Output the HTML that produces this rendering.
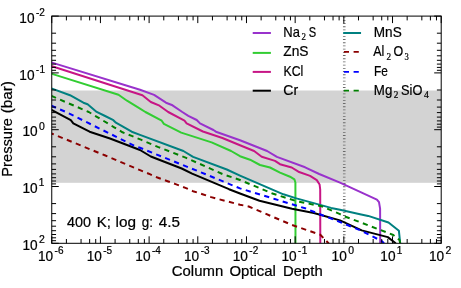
<!DOCTYPE html>
<html><head><meta charset="utf-8"><title>Column Optical Depth vs Pressure</title>
<style>html,body{margin:0;padding:0;background:#fff;}body{width:461px;height:288px;overflow:hidden;font-family:"Liberation Sans",sans-serif;}</style>
</head><body>
<svg width="461" height="288" viewBox="0 0 461 288" style="display:block;will-change:transform;font-family:'Liberation Sans',sans-serif">
<style>text{stroke:#000;stroke-width:0.22px;fill:#000}</style>
<rect x="0" y="0" width="461" height="288" fill="#fff"/>
<rect x="51.75" y="90.5" width="389.45" height="92.30000000000001" fill="#D3D3D3"/>
<line x1="344.25" y1="16.700000000000003" x2="344.25" y2="243.3" stroke="#6a6a6a" stroke-width="2.6" stroke-dasharray="0.85 2.35"/>
<clipPath id="cp"><rect x="51.75" y="16.1" width="389.45" height="227.20000000000002"/></clipPath>
<g clip-path="url(#cp)" fill="none" stroke-width="2" stroke-linejoin="round">
<path d="M50.0,62.0 L52.0,62.6 L140.0,89.7 L154.1,94.9 L166.0,102.7 L172.5,105.3 L182.3,112.0 L188.3,115.8 L196.7,120.0 L200.0,123.4 L213.4,130.0 L215.9,131.7 L240.0,140.2 L267.1,151.0 L276.9,156.9 L305.1,167.3 L319.2,174.0 L340.0,182.7 L376.9,199.6 L379.0,202.2 L380.1,208.7 L380.2,244.0" stroke="#9932CC"/>
<path d="M50.0,73.3 L52.0,73.9 L118.5,94.7 L127.0,100.7 L140.0,108.6 L145.4,112.0 L161.7,120.7 L163.9,123.9 L181.2,132.6 L211.6,142.4 L231.1,151.0 L240.0,156.2 L250.0,159.7 L260.0,165.0 L270.0,167.5 L280.0,172.6 L290.0,176.7 L294.4,179.4 L295.4,182.5 L295.5,244.0" stroke="#32CD32"/>
<path d="M50.0,65.7 L52.0,66.3 L142.4,95.3 L150.8,102.0 L159.5,105.7 L168.2,112.0 L184.5,120.7 L186.6,123.3 L202.9,131.5 L222.4,138.0 L240.0,145.2 L254.1,151.0 L261.7,156.7 L275.0,160.9 L280.0,164.2 L291.7,167.5 L298.4,171.7 L310.1,175.9 L316.8,180.1 L319.6,184.5 L320.2,189.5 L320.3,244.0" stroke="#C71585"/>
<path d="M50.0,109.1 L52.0,110.2 L70.8,120.2 L73.3,123.3 L89.6,131.7 L110.0,138.5 L140.0,150.0 L150.8,156.5 L181.7,168.5 L192.1,173.7 L229.0,189.2 L240.0,193.5 L259.5,200.7 L292.0,208.7 L313.8,213.0 L340.0,220.4 L361.7,230.4 L387.8,237.1 L394.7,242.5 L396.0,244.0" stroke="#000000"/>
<path d="M50.0,87.9 L52.0,88.6 L70.0,95.2 L83.4,102.7 L87.6,104.3 L96.7,111.9 L105.1,116.0 L113.4,120.2 L115.9,122.7 L131.7,131.7 L140.0,134.9 L183.4,151.0 L193.1,156.9 L226.8,169.5 L240.0,175.6 L257.4,183.2 L283.4,194.3 L296.4,198.4 L331.1,207.9 L340.0,209.8 L360.0,214.2 L368.2,215.9 L388.5,222.5 L398.9,230.8 L400.3,244.0" stroke="#008080"/>
<path d="M50.0,132.9 L52.0,133.7 L104.8,155.3 L140.0,170.2 L148.7,173.7 L157.4,177.5 L166.9,181.0 L175.6,184.1 L184.8,187.6 L193.0,191.2 L202.5,194.2 L211.2,197.1 L219.0,199.2 L240.0,204.7 L248.7,206.5 L292.0,225.0 L320.3,234.7 L327.3,242.0 L329.0,244.0" stroke="#8B0000" stroke-dasharray="5.2 4.45" stroke-dashoffset="1.0991155774536878"/>
<path d="M50.0,105.1 L52.0,106.0 L66.0,112.0 L135.5,146.3 L140.0,147.8 L205.1,174.0 L240.0,188.4 L274.7,199.0 L305.1,208.3 L322.4,215.2 L340.0,222.0 L361.4,230.8 L382.2,241.3 L384.0,243.5" stroke="#0000FF" stroke-dasharray="5.2 4.45" stroke-dashoffset="-1.3259351731039737"/>
<path d="M50.0,95.3 L52.0,96.2 L88.8,112.0 L114.2,127.3 L122.5,132.3 L131.7,135.9 L140.9,139.7 L158.4,147.1 L185.6,157.6 L222.4,174.0 L240.0,180.0 L272.5,193.5 L296.4,201.1 L322.4,206.5 L340.0,214.1 L344.3,216.3 L362.8,223.2 L393.3,235.0 L399.5,240.0 L400.3,244.0" stroke="#008000" stroke-dasharray="5.2 4.45" stroke-dashoffset="-1.3265473169821926"/>
</g>
<rect x="51.75" y="16.1" width="389.45" height="227.20000000000002" fill="none" stroke="#000" stroke-width="1"/>
<path d="M51.75,243.3v-7.0M51.75,16.1v7.0M66.40,243.3v-4.3M66.40,16.1v4.3M81.06,243.3v-4.3M81.06,16.1v4.3M89.63,243.3v-4.3M89.63,16.1v4.3M95.71,243.3v-4.3M95.71,16.1v4.3M100.43,243.3v-7.0M100.43,16.1v7.0M115.09,243.3v-4.3M115.09,16.1v4.3M129.74,243.3v-4.3M129.74,16.1v4.3M138.31,243.3v-4.3M138.31,16.1v4.3M144.39,243.3v-4.3M144.39,16.1v4.3M149.11,243.3v-7.0M149.11,16.1v7.0M163.77,243.3v-4.3M163.77,16.1v4.3M178.42,243.3v-4.3M178.42,16.1v4.3M186.99,243.3v-4.3M186.99,16.1v4.3M193.08,243.3v-4.3M193.08,16.1v4.3M197.79,243.3v-7.0M197.79,16.1v7.0M212.45,243.3v-4.3M212.45,16.1v4.3M227.10,243.3v-4.3M227.10,16.1v4.3M235.68,243.3v-4.3M235.68,16.1v4.3M241.76,243.3v-4.3M241.76,16.1v4.3M246.47,243.3v-7.0M246.47,16.1v7.0M261.13,243.3v-4.3M261.13,16.1v4.3M275.78,243.3v-4.3M275.78,16.1v4.3M284.36,243.3v-4.3M284.36,16.1v4.3M290.44,243.3v-4.3M290.44,16.1v4.3M295.16,243.3v-7.0M295.16,16.1v7.0M309.81,243.3v-4.3M309.81,16.1v4.3M324.47,243.3v-4.3M324.47,16.1v4.3M333.04,243.3v-4.3M333.04,16.1v4.3M339.12,243.3v-4.3M339.12,16.1v4.3M343.84,243.3v-7.0M343.84,16.1v7.0M358.49,243.3v-4.3M358.49,16.1v4.3M373.15,243.3v-4.3M373.15,16.1v4.3M381.72,243.3v-4.3M381.72,16.1v4.3M387.80,243.3v-4.3M387.80,16.1v4.3M392.52,243.3v-7.0M392.52,16.1v7.0M407.17,243.3v-4.3M407.17,16.1v4.3M421.83,243.3v-4.3M421.83,16.1v4.3M430.40,243.3v-4.3M430.40,16.1v4.3M436.48,243.3v-4.3M436.48,16.1v4.3M441.20,243.3v-7.0M441.20,16.1v7.0M51.75,16.10h7.0M441.2,16.10h-7.0M51.75,33.20h4.3M441.2,33.20h-4.3M51.75,43.20h4.3M441.2,43.20h-4.3M51.75,50.30h4.3M441.2,50.30h-4.3M51.75,55.80h4.3M441.2,55.80h-4.3M51.75,60.30h4.3M441.2,60.30h-4.3M51.75,64.10h4.3M441.2,64.10h-4.3M51.75,67.40h4.3M441.2,67.40h-4.3M51.75,70.30h4.3M441.2,70.30h-4.3M51.75,72.90h7.0M441.2,72.90h-7.0M51.75,90.00h4.3M441.2,90.00h-4.3M51.75,100.00h4.3M441.2,100.00h-4.3M51.75,107.10h4.3M441.2,107.10h-4.3M51.75,112.60h4.3M441.2,112.60h-4.3M51.75,117.10h4.3M441.2,117.10h-4.3M51.75,120.90h4.3M441.2,120.90h-4.3M51.75,124.20h4.3M441.2,124.20h-4.3M51.75,127.10h4.3M441.2,127.10h-4.3M51.75,129.70h7.0M441.2,129.70h-7.0M51.75,146.80h4.3M441.2,146.80h-4.3M51.75,156.80h4.3M441.2,156.80h-4.3M51.75,163.90h4.3M441.2,163.90h-4.3M51.75,169.40h4.3M441.2,169.40h-4.3M51.75,173.90h4.3M441.2,173.90h-4.3M51.75,177.70h4.3M441.2,177.70h-4.3M51.75,181.00h4.3M441.2,181.00h-4.3M51.75,183.90h4.3M441.2,183.90h-4.3M51.75,186.50h7.0M441.2,186.50h-7.0M51.75,203.60h4.3M441.2,203.60h-4.3M51.75,213.60h4.3M441.2,213.60h-4.3M51.75,220.70h4.3M441.2,220.70h-4.3M51.75,226.20h4.3M441.2,226.20h-4.3M51.75,230.70h4.3M441.2,230.70h-4.3M51.75,234.50h4.3M441.2,234.50h-4.3M51.75,237.80h4.3M441.2,237.80h-4.3M51.75,240.70h4.3M441.2,240.70h-4.3M51.75,243.30h7.0M441.2,243.30h-7.0" stroke="#000" stroke-width="1" fill="none"/>
<text x="37.98" y="260.70" font-size="14.3" font-family="'Liberation Sans',sans-serif" textLength="15.20" lengthAdjust="spacingAndGlyphs">10</text>
<text x="54.62" y="253.80" font-size="10.0" font-family="'Liberation Sans',sans-serif" textLength="8.90" lengthAdjust="spacingAndGlyphs">-6</text>
<text x="86.66" y="260.70" font-size="14.3" font-family="'Liberation Sans',sans-serif" textLength="15.20" lengthAdjust="spacingAndGlyphs">10</text>
<text x="103.31" y="253.80" font-size="10.0" font-family="'Liberation Sans',sans-serif" textLength="8.90" lengthAdjust="spacingAndGlyphs">-5</text>
<text x="135.34" y="260.70" font-size="14.3" font-family="'Liberation Sans',sans-serif" textLength="15.20" lengthAdjust="spacingAndGlyphs">10</text>
<text x="151.99" y="253.80" font-size="10.0" font-family="'Liberation Sans',sans-serif" textLength="8.90" lengthAdjust="spacingAndGlyphs">-4</text>
<text x="184.02" y="260.70" font-size="14.3" font-family="'Liberation Sans',sans-serif" textLength="15.20" lengthAdjust="spacingAndGlyphs">10</text>
<text x="200.67" y="253.80" font-size="10.0" font-family="'Liberation Sans',sans-serif" textLength="8.90" lengthAdjust="spacingAndGlyphs">-3</text>
<text x="232.70" y="260.70" font-size="14.3" font-family="'Liberation Sans',sans-serif" textLength="15.20" lengthAdjust="spacingAndGlyphs">10</text>
<text x="249.35" y="253.80" font-size="10.0" font-family="'Liberation Sans',sans-serif" textLength="8.90" lengthAdjust="spacingAndGlyphs">-2</text>
<text x="281.38" y="260.70" font-size="14.3" font-family="'Liberation Sans',sans-serif" textLength="15.20" lengthAdjust="spacingAndGlyphs">10</text>
<text x="298.03" y="253.80" font-size="10.0" font-family="'Liberation Sans',sans-serif" textLength="3.00" lengthAdjust="spacingAndGlyphs">-</text>
<text x="301.65" y="253.80" font-size="10.0" font-family="'Liberation Sans',sans-serif">1</text>
<text x="331.61" y="260.70" font-size="14.3" font-family="'Liberation Sans',sans-serif" textLength="15.20" lengthAdjust="spacingAndGlyphs">10</text>
<text x="348.26" y="253.80" font-size="10.0" font-family="'Liberation Sans',sans-serif" textLength="5.80" lengthAdjust="spacingAndGlyphs">0</text>
<text x="380.29" y="260.70" font-size="14.3" font-family="'Liberation Sans',sans-serif" textLength="15.20" lengthAdjust="spacingAndGlyphs">10</text>
<text x="396.66" y="253.80" font-size="10.0" font-family="'Liberation Sans',sans-serif">1</text>
<text x="428.97" y="260.70" font-size="14.3" font-family="'Liberation Sans',sans-serif" textLength="15.20" lengthAdjust="spacingAndGlyphs">10</text>
<text x="445.62" y="253.80" font-size="10.0" font-family="'Liberation Sans',sans-serif" textLength="5.80" lengthAdjust="spacingAndGlyphs">2</text>
<text x="19.35" y="22.80" font-size="14.3" font-family="'Liberation Sans',sans-serif" textLength="15.20" lengthAdjust="spacingAndGlyphs">10</text>
<text x="36.00" y="15.90" font-size="10.0" font-family="'Liberation Sans',sans-serif" textLength="8.90" lengthAdjust="spacingAndGlyphs">-2</text>
<text x="19.35" y="79.60" font-size="14.3" font-family="'Liberation Sans',sans-serif" textLength="15.20" lengthAdjust="spacingAndGlyphs">10</text>
<text x="36.00" y="72.70" font-size="10.0" font-family="'Liberation Sans',sans-serif" textLength="3.00" lengthAdjust="spacingAndGlyphs">-</text>
<text x="39.62" y="72.70" font-size="10.0" font-family="'Liberation Sans',sans-serif">1</text>
<text x="22.45" y="136.40" font-size="14.3" font-family="'Liberation Sans',sans-serif" textLength="15.20" lengthAdjust="spacingAndGlyphs">10</text>
<text x="39.10" y="129.50" font-size="10.0" font-family="'Liberation Sans',sans-serif" textLength="5.80" lengthAdjust="spacingAndGlyphs">0</text>
<text x="22.45" y="193.20" font-size="14.3" font-family="'Liberation Sans',sans-serif" textLength="15.20" lengthAdjust="spacingAndGlyphs">10</text>
<text x="38.82" y="186.30" font-size="10.0" font-family="'Liberation Sans',sans-serif">1</text>
<text x="22.45" y="250.00" font-size="14.3" font-family="'Liberation Sans',sans-serif" textLength="15.20" lengthAdjust="spacingAndGlyphs">10</text>
<text x="39.10" y="243.10" font-size="10.0" font-family="'Liberation Sans',sans-serif" textLength="5.80" lengthAdjust="spacingAndGlyphs">2</text>
<text x="171.80" y="276.00" font-size="14.3" font-family="'Liberation Sans',sans-serif" textLength="51.40" lengthAdjust="spacingAndGlyphs">Column</text>
<text x="229.50" y="276.00" font-size="14.3" font-family="'Liberation Sans',sans-serif" textLength="46.40" lengthAdjust="spacingAndGlyphs">Optical</text>
<text x="283.10" y="276.00" font-size="14.3" font-family="'Liberation Sans',sans-serif" textLength="39.61" lengthAdjust="spacingAndGlyphs">Depth</text>
<g transform="translate(12.4,0) rotate(-90)">
<text x="-176.70" y="0.00" font-size="14.3" font-family="'Liberation Sans',sans-serif" textLength="58.69" lengthAdjust="spacingAndGlyphs">Pressure</text>
<text x="-113.30" y="0.00" font-size="14.3" font-family="'Liberation Sans',sans-serif" textLength="32.21" lengthAdjust="spacingAndGlyphs">(bar)</text>
</g>
<text x="67.00" y="226.80" font-size="14.3" font-family="'Liberation Sans',sans-serif" textLength="24.01" lengthAdjust="spacingAndGlyphs">400</text>
<text x="96.70" y="226.80" font-size="14.3" font-family="'Liberation Sans',sans-serif" textLength="14.10" lengthAdjust="spacingAndGlyphs">K;</text>
<text x="115.60" y="226.80" font-size="14.3" font-family="'Liberation Sans',sans-serif" textLength="20.51" lengthAdjust="spacingAndGlyphs">log</text>
<text x="141.80" y="226.80" font-size="14.3" font-family="'Liberation Sans',sans-serif" textLength="11.20" lengthAdjust="spacingAndGlyphs">g:</text>
<text x="158.70" y="226.80" font-size="14.3" font-family="'Liberation Sans',sans-serif" textLength="21.20" lengthAdjust="spacingAndGlyphs">4.5</text>
<line x1="252.7" x2="270.9" y1="33.0" y2="33.0" stroke="#9932CC" stroke-width="2"/>
<line x1="252.7" x2="270.9" y1="52.9" y2="52.9" stroke="#32CD32" stroke-width="2"/>
<line x1="252.7" x2="270.9" y1="71.9" y2="71.9" stroke="#C71585" stroke-width="2"/>
<line x1="252.7" x2="270.9" y1="90.7" y2="90.7" stroke="#000" stroke-width="2"/>
<line x1="343.2" x2="361.05" y1="33.0" y2="33.0" stroke="#008080" stroke-width="2"/>
<path d="M343.9,51.9h5.1M353.6,51.9h5.2" stroke="#8B0000" stroke-width="1.9"/>
<path d="M343.9,71.9h5.1M353.6,71.9h5.2" stroke="#0000FF" stroke-width="1.9"/>
<path d="M343.9,90.6h5.1M353.6,90.6h5.2" stroke="#008000" stroke-width="1.9"/>
<text x="283.30" y="36.70" font-size="14.3" font-family="'Liberation Sans',sans-serif" textLength="16.59" lengthAdjust="spacingAndGlyphs">Na</text>
<text x="301.60" y="39.90" font-size="9.6" font-family="'Liberation Serif',serif" textLength="4.45" lengthAdjust="spacingAndGlyphs">2</text>
<text x="308.80" y="36.70" font-size="14.3" font-family="'Liberation Sans',sans-serif" textLength="7.40" lengthAdjust="spacingAndGlyphs">S</text>
<text x="283.30" y="56.20" font-size="14.3" font-family="'Liberation Sans',sans-serif" textLength="25.25" lengthAdjust="spacingAndGlyphs">ZnS</text>
<text x="283.55" y="75.50" font-size="14.3" font-family="'Liberation Sans',sans-serif" textLength="19.75" lengthAdjust="spacingAndGlyphs">KCl</text>
<text x="283.30" y="94.70" font-size="14.3" font-family="'Liberation Sans',sans-serif" textLength="14.80" lengthAdjust="spacingAndGlyphs">Cr</text>
<text x="373.80" y="36.70" font-size="14.3" font-family="'Liberation Sans',sans-serif" textLength="27.90" lengthAdjust="spacingAndGlyphs">MnS</text>
<text x="373.30" y="55.90" font-size="14.3" font-family="'Liberation Sans',sans-serif" textLength="11.10" lengthAdjust="spacingAndGlyphs">Al</text>
<text x="386.50" y="59.50" font-size="9.6" font-family="'Liberation Serif',serif" textLength="4.60" lengthAdjust="spacingAndGlyphs">2</text>
<text x="393.50" y="55.90" font-size="14.3" font-family="'Liberation Sans',sans-serif" textLength="9.70" lengthAdjust="spacingAndGlyphs">O</text>
<text x="404.40" y="59.50" font-size="9.6" font-family="'Liberation Serif',serif" textLength="4.30" lengthAdjust="spacingAndGlyphs">3</text>
<text x="374.10" y="75.50" font-size="14.3" font-family="'Liberation Sans',sans-serif" textLength="13.90" lengthAdjust="spacingAndGlyphs">Fe</text>
<text x="373.80" y="94.70" font-size="14.3" font-family="'Liberation Sans',sans-serif" textLength="18.50" lengthAdjust="spacingAndGlyphs">Mg</text>
<text x="393.80" y="98.00" font-size="9.6" font-family="'Liberation Serif',serif" textLength="4.60" lengthAdjust="spacingAndGlyphs">2</text>
<text x="401.10" y="94.70" font-size="14.3" font-family="'Liberation Sans',sans-serif" textLength="21.30" lengthAdjust="spacingAndGlyphs">SiO</text>
<text x="423.90" y="98.00" font-size="9.6" font-family="'Liberation Serif',serif" textLength="4.80" lengthAdjust="spacingAndGlyphs">4</text>
</svg>
</body></html>
